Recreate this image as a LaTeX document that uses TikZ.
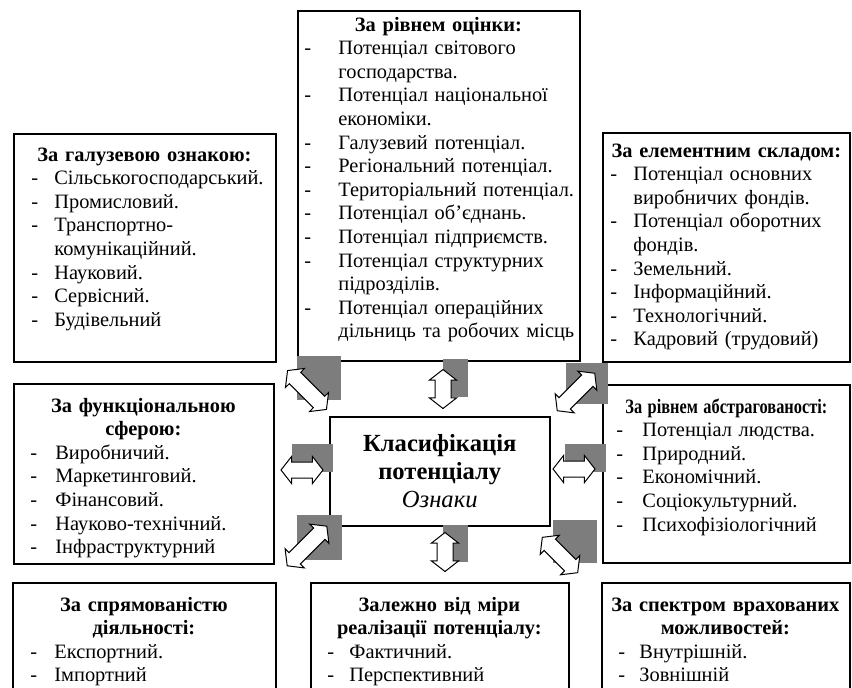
\documentclass[tikz,border=0pt]{standalone}
\usepackage{fontspec}
\setmainfont{Liberation Serif}
\usepackage{graphicx}
\usetikzlibrary{shapes.arrows,positioning}

\definecolor{shadegray}{RGB}{125,125,125}

\hyphenpenalty=10000
\exhyphenpenalty=10000

\newlength{\dashx}
\newlength{\itemx}
% list item: dash, then the text with a hanging indent
\newcommand{\pitem}{\par\noindent\hangindent=\itemx\makebox[\itemx][l]{\hspace{\dashx}-}}
\newcommand{\phead}[1]{{\centering\bfseries #1\par}}

\tikzset{
  box/.style={draw, line width=0.75pt, inner sep=0pt, anchor=north west},
  txt/.style={anchor=base west, inner sep=0pt, align=left,
    font=\fontsize{10.2}{11.8}\selectfont},
  marks/.style 2 args={execute at begin node={\setlength{\dashx}{#1}\setlength{\itemx}{#2}}},
  shadesq/.style={fill=shadegray},
  dbarrow/.style={double arrow, draw, fill=white, line width=0.5pt,
    inner xsep=0pt, inner ysep=3.75pt, minimum width=0pt,
    double arrow head extend=2.75pt, double arrow tip angle=104}
}

\begin{document}
\begin{tikzpicture}[x=0.5pt,y=-0.5pt]
\useasboundingbox (0,0) rectangle (852,687);
\clip (0,0) rectangle (852,687);
\fill[white] (0,0) rectangle (852,687);

% boxes
\node[box, minimum width=131pt, minimum height=114pt] (gal) at (13,133) {};
\node[box, minimum width=141pt, minimum height=175pt] (riv) at (297,10) {};
\node[box, minimum width=123.5pt, minimum height=114.5pt] (elem) at (602,132) {};
\node[box, minimum width=130pt, minimum height=90pt] (func) at (13,383) {};
\node[box, minimum width=123.5pt, minimum height=89pt] (abstr) at (602,384) {};
\node[box, minimum width=131.5pt, minimum height=80pt] (spr) at (12,582) {};
\node[box, minimum width=129pt, minimum height=80pt] (real) at (310,582) {};
\node[box, minimum width=124pt, minimum height=80pt] (spek) at (601,582) {};
\node[box, align=center, minimum width=110pt, minimum height=54.5pt,
  font=\fontsize{12.3}{13.9}\selectfont] (cls) at (329,416)
  {\textbf{Класифікація}\\\textbf{потенціалу}\\\textit{Ознаки}};

% texts
\node[txt, marks={6pt}{17.5pt}, text width=125pt] (gal-t)
  at ([xshift=3pt,yshift=-14pt]gal.north west) {%
  \phead{За галузевою ознакою:}
  \pitem Сільськогосподарський.
  \pitem Промисловий.
  \pitem Транспортно-\newline комунікаційний.
  \pitem Науковий.
  \pitem Сервісний.
  \pitem Будівельний\par};
\node[txt, marks={0.5pt}{17.5pt}, text width=135pt] (riv-t)
  at ([xshift=3pt,yshift=-10.5pt]riv.north west) {%
  \phead{За рівнем оцінки:}
  \pitem Потенціал світового\newline господарства.
  \pitem Потенціал національної\newline економіки.
  \pitem Галузевий потенціал.
  \pitem Регіональний потенціал.
  \pitem \mbox{Територіальний потенціал.}
  \pitem Потенціал об’єднань.
  \pitem Потенціал підприємств.
  \pitem Потенціал структурних\newline підрозділів.
  \pitem Потенціал операційних\newline \mbox{дільниць та робочих місць}\par};
\node[txt, marks={1pt}{12.5pt}, text width=118pt] (elem-t)
  at ([xshift=3pt,yshift=-12.5pt]elem.north west) {%
  \phead{За елементним складом:}
  \pitem Потенціал основних\newline виробничих фондів.
  \pitem Потенціал оборотних\newline фондів.
  \pitem Земельний.
  \pitem Інформаційний.
  \pitem Технологічний.
  \pitem Кадровий (трудовий)\par};
\node[txt, marks={5.5pt}{18pt}, text width=124pt] (func-t)
  at ([xshift=3pt,yshift=-14.5pt]func.north west) {%
  \phead{За функціональною\\сферою:}
  \pitem Виробничий.
  \pitem Маркетинговий.
  \pitem Фінансовий.
  \pitem Науково-технічний.
  \pitem Інфраструктурний\par};
\node[txt, marks={4pt}{17pt}, text width=118pt] (abstr-t)
  at ([xshift=3pt,yshift=-14.5pt]abstr.north west) {%
  \phead{\resizebox{101pt}{\height}{За рівнем абстрагованості:}}
  \pitem Потенціал людства.
  \pitem Природний.
  \pitem Економічний.
  \pitem Соціокультурний.
  \pitem Психофізіологічний\par};
\node[txt, marks={6pt}{18pt}, text width=125.5pt] (spr-t)
  at ([xshift=3pt,yshift=-14.5pt]spr.north west) {%
  \phead{За спрямованістю\\діяльності:}
  \pitem Експортний.
  \pitem Імпортний\par};
\node[txt, marks={5.5pt}{16.5pt}, text width=123pt] (real-t)
  at ([xshift=3pt,yshift=-14.5pt]real.north west) {%
  \phead{Залежно від міри\\реалізації потенціалу:}
  \pitem Фактичний.
  \pitem Перспективний\par};
\node[txt, marks={5.5pt}{16pt}, text width=118pt] (spek-t)
  at ([xshift=3pt,yshift=-14.5pt]spek.north west) {%
  \phead{За спектром врахованих\\можливостей:}
  \pitem Внутрішній.
  \pitem Зовнішній\par};

% grey squares behind the arrows
\foreach \a/\b/\c/\d in {297/356/341/400, 443/359/468/397, 566/363/608/404,
    292/444/333/472, 565/444/606/472, 297/515/342/560, 443/525/468/562,
    553/520/597/563}
  \fill[shadesq] (\a,\b) rectangle (\c,\d);

% arrows
\foreach \nm/\px/\py/\ang/\len in {ul/307/390/-45/27.5, t/443/389/90/19.5,
    ur/576/392/45/26.5, l/302/470/0/21, r/574/469/0/21, ll/307/546/45/28,
    b/445/552/90/19.5, lr/560/555/-45/25}
  \node[dbarrow, minimum height=\len pt, rotate=\ang] (a-\nm) at (\px,\py) {};
\end{tikzpicture}
\end{document}
